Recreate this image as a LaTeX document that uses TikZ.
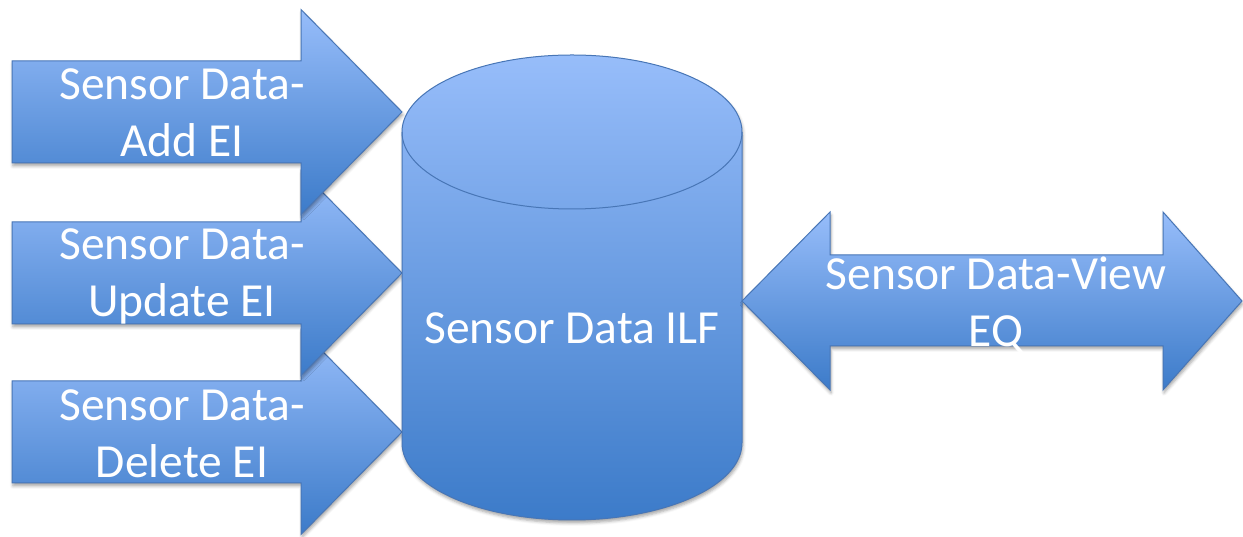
\documentclass[tikz,border=0pt]{standalone}
\usepackage{fontspec}
\setmainfont{Carlito}
\usetikzlibrary{shadows.blur}
\definecolor{topc}{RGB}{151,189,250}
\definecolor{botc}{RGB}{60,123,201}
\definecolor{edgec}{RGB}{72,118,182}
\tikzset{
  blueshape/.style={draw=edgec, line width=1pt, top color=topc, bottom color=botc, line join=miter,
    blur shadow={shadow xshift=1pt, shadow yshift=-3pt, shadow blur radius=3pt, shadow opacity=35}},
  lbl/.style={text=white, font=\fontsize{47.5}{57}\selectfont, align=center, anchor=base, inner sep=0pt}
}
\begin{document}
\begin{tikzpicture}[x=1pt,y=1pt]
\useasboundingbox (0,0) rectangle (1243,537);
% left arrows (bottom first so upper heads overlap lower ones)
\path[blueshape] (12,156) -- (301,156) -- (301,207.5) -- (402,105) -- (301,2.5) -- (301,54) -- (12,54) -- cycle;
\path[blueshape] (12,315) -- (301,315) -- (301,366.5) -- (402,264) -- (301,161.5) -- (301,213) -- (12,213) -- cycle;
\path[blueshape] (12,476) -- (301,476) -- (301,527.5) -- (402,425) -- (301,322.5) -- (301,374) -- (12,374) -- cycle;
% cylinder
\path[blueshape] (402,405) -- (402,94) arc[start angle=180, end angle=360, x radius=170, y radius=77]
  -- (742,405) arc[start angle=0, end angle=180, x radius=170, y radius=77] -- cycle;
\draw[edgec, line width=1pt] (402,405) arc[start angle=180, end angle=360, x radius=170, y radius=77];
% double arrow
\path[blueshape] (742,236) -- (830,325) -- (830,282) -- (1163,282) -- (1163,325) -- (1242,236)
  -- (1163,147) -- (1163,191) -- (830,191) -- (830,147) -- cycle;
% labels (base anchor = baseline of the last line)
\node[lbl] (add) at (182,380) {Sensor Data-\\Add EI};
\node[lbl] (upd) at (182,220) {Sensor Data-\\Update EI};
\node[lbl] (del) at (182,59) {Sensor Data-\\Delete EI};
\node[lbl] (ilf) at (572,193) {Sensor Data ILF};
\node[lbl] (view) at (996,190) {Sensor Data-View\\EQ};
\end{tikzpicture}
\end{document}
